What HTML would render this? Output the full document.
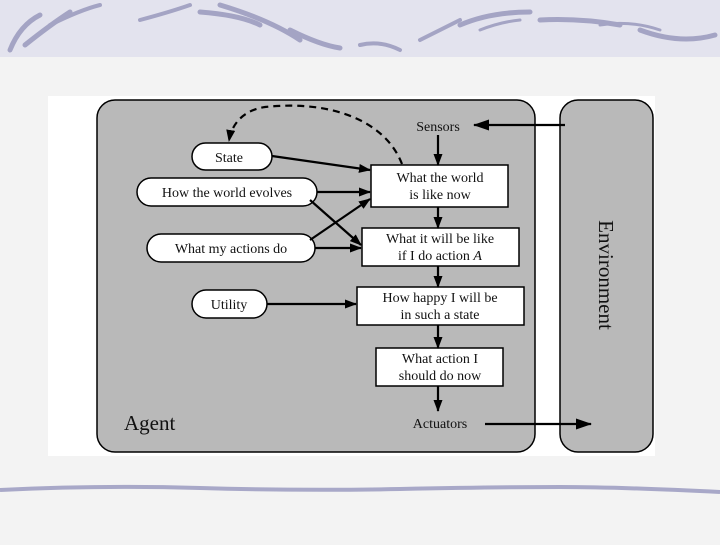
<!DOCTYPE html>
<html><head><meta charset="utf-8"><style>
body{margin:0;width:720px;height:540px;overflow:hidden;background:#f3f3f3;font-family:"Liberation Serif",serif}
</style></head><body>
<svg width="720" height="540" viewBox="0 0 720 540" xmlns="http://www.w3.org/2000/svg">
<defs>
<marker id="a" markerWidth="12" markerHeight="9" refX="11" refY="4.5" orient="auto" markerUnits="userSpaceOnUse"><path d="M0,0 L12,4.5 L0,9 Z" fill="#000"/></marker>
<marker id="b" markerWidth="16" markerHeight="11" refX="15" refY="5.5" orient="auto" markerUnits="userSpaceOnUse"><path d="M0,0 L16,5.5 L0,11 Z" fill="#000"/></marker>
</defs>
<rect x="0" y="0" width="720" height="57" fill="#e3e3ee"/>
<g stroke="#a4a4c4" stroke-linecap="round" fill="none">
<path d="M10,50 Q20,25 40,15" stroke-width="5"/><path d="M25,45 Q50,25 70,12" stroke-width="5"/><path d="M50,25 Q80,10 100,5" stroke-width="4"/>
<path d="M140,20 Q170,12 190,5" stroke-width="4"/><path d="M200,12 Q240,15 260,25" stroke-width="5"/><path d="M220,5 Q270,20 300,40" stroke-width="5"/>
<path d="M290,30 Q320,45 340,48" stroke-width="5"/><path d="M360,45 Q380,40 400,50" stroke-width="4"/><path d="M420,40 Q440,30 460,20" stroke-width="4"/>
<path d="M460,25 Q490,12 530,12" stroke-width="5"/><path d="M540,20 Q580,18 620,25" stroke-width="5"/><path d="M640,30 Q680,45 715,35" stroke-width="5"/>
<path d="M600,25 Q630,20 660,30" stroke-width="3"/><path d="M480,30 Q500,22 520,20" stroke-width="3"/>
</g>
<path d="M0,490 Q100,485 200,488 T400,489 T560,487 T720,492" stroke="#a8a8c8" stroke-width="4" fill="none"/>
<rect x="48" y="96" width="607" height="360" fill="#fff"/>
<rect x="97" y="100" width="438" height="352" rx="18" fill="#b9b9b9" stroke="#000" stroke-width="1.5"/>
<rect x="560" y="100" width="93" height="352" rx="18" fill="#b9b9b9" stroke="#000" stroke-width="1.5"/>
<g stroke="#000" stroke-width="1.5" fill="#fff">
<rect x="192" y="143" width="80" height="27" rx="13.5"/>
<rect x="137" y="178" width="180" height="28" rx="14"/>
<rect x="147" y="234" width="168" height="28" rx="14"/>
<rect x="192" y="290" width="75" height="28" rx="14"/>
<rect x="371" y="165" width="137" height="42"/>
<rect x="362" y="228" width="157" height="38"/>
<rect x="357" y="287" width="167" height="38"/>
<rect x="376" y="348" width="127" height="38"/>
</g>
<g font-size="14" text-anchor="middle" fill="#111">
<text x="229" y="162">State</text>
<text x="227" y="197">How the world evolves</text>
<text x="231" y="253">What my actions do</text>
<text x="229" y="309">Utility</text>
<text x="440" y="182">What the world</text><text x="440" y="199">is like now</text>
<text x="440" y="243">What it will be like</text><text x="440" y="260">if I do action <tspan font-style="italic">A</tspan></text>
<text x="440" y="302">How happy I will be</text><text x="440" y="319">in such a state</text>
<text x="440" y="363">What action I</text><text x="440" y="380">should do now</text>
<text x="438" y="131">Sensors</text>
<text x="440" y="428">Actuators</text>
</g>
<text x="124" y="430" font-size="21" fill="#111">Agent</text>
<text transform="translate(599,275) rotate(90)" font-size="21" text-anchor="middle" fill="#111">Environment</text>
<g stroke="#000" stroke-width="2.2" fill="none">
<line x1="565" y1="125" x2="474" y2="125" marker-end="url(#b)"/>
<line x1="485" y1="424" x2="591" y2="424" marker-end="url(#b)"/>
<line x1="438" y1="135" x2="438" y2="165" marker-end="url(#a)"/>
<line x1="438" y1="207" x2="438" y2="228" marker-end="url(#a)"/>
<line x1="438" y1="266" x2="438" y2="287" marker-end="url(#a)"/>
<line x1="438" y1="325" x2="438" y2="348" marker-end="url(#a)"/>
<line x1="438" y1="386" x2="438" y2="411" marker-end="url(#a)"/>
<line x1="272" y1="156" x2="370" y2="170" marker-end="url(#a)"/>
<line x1="317" y1="192" x2="370" y2="192" marker-end="url(#a)"/>
<line x1="310" y1="200" x2="361" y2="245" marker-end="url(#a)"/>
<line x1="310" y1="240" x2="370" y2="199" marker-end="url(#a)"/>
<line x1="315" y1="248" x2="361" y2="248" marker-end="url(#a)"/>
<line x1="267" y1="304" x2="356" y2="304" marker-end="url(#a)"/>
<path d="M402,164 C385,120 330,100 265,107 C245,110 232,122 229,141" stroke-dasharray="7,5" marker-end="url(#a)"/>
</g>
</svg>
</body></html>
